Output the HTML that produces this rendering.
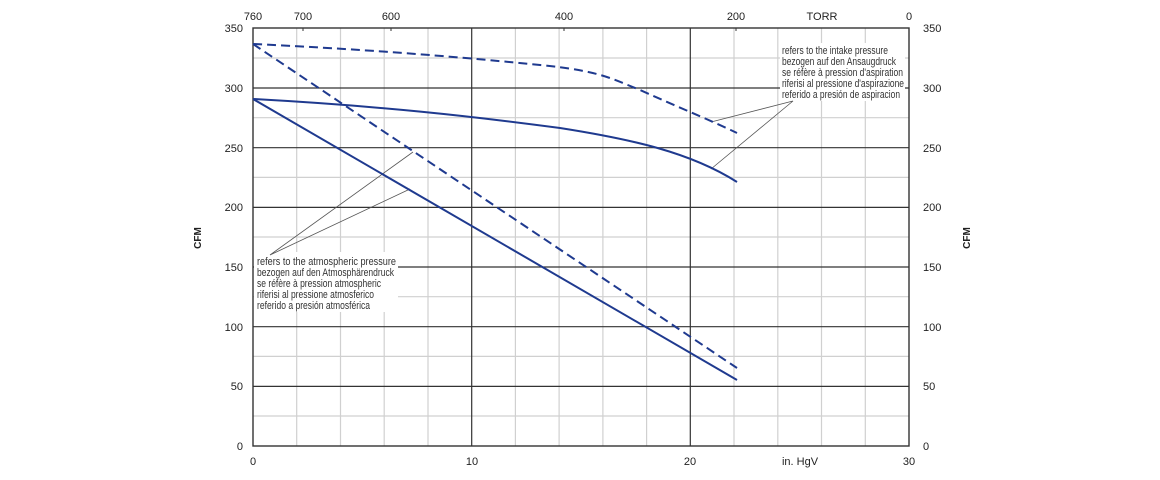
<!DOCTYPE html>
<html><head><meta charset="utf-8"><style>
html,body{margin:0;padding:0;background:#fff;}
svg{display:block;font-family:"Liberation Sans",sans-serif;}
</style></head><body>
<svg width="1160" height="480" viewBox="0 0 1160 480" xmlns="http://www.w3.org/2000/svg">
<g stroke="#d0d0d0" stroke-width="1.2">
<line x1="296.7" y1="28" x2="296.7" y2="446"/><line x1="340.5" y1="28" x2="340.5" y2="446"/><line x1="384.2" y1="28" x2="384.2" y2="446"/><line x1="428" y1="28" x2="428" y2="446"/>
<line x1="515.4" y1="28" x2="515.4" y2="446"/><line x1="559.1" y1="28" x2="559.1" y2="446"/><line x1="602.9" y1="28" x2="602.9" y2="446"/><line x1="646.6" y1="28" x2="646.6" y2="446"/>
<line x1="734" y1="28" x2="734" y2="446"/><line x1="777.8" y1="28" x2="777.8" y2="446"/><line x1="821.5" y1="28" x2="821.5" y2="446"/><line x1="865.3" y1="28" x2="865.3" y2="446"/>
<line x1="253" y1="58" x2="909" y2="58"/><line x1="253" y1="117.7" x2="909" y2="117.7"/><line x1="253" y1="177.4" x2="909" y2="177.4"/><line x1="253" y1="237" x2="909" y2="237"/><line x1="253" y1="296.7" x2="909" y2="296.7"/><line x1="253" y1="356.4" x2="909" y2="356.4"/><line x1="253" y1="416" x2="909" y2="416"/>
</g>
<g stroke="#333" stroke-width="1.2">
<line x1="253" y1="88" x2="909" y2="88"/><line x1="253" y1="147.7" x2="909" y2="147.7"/><line x1="253" y1="207.4" x2="909" y2="207.4"/><line x1="253" y1="267" x2="909" y2="267"/><line x1="253" y1="326.7" x2="909" y2="326.7"/><line x1="253" y1="386.4" x2="909" y2="386.4"/>
<line x1="471.7" y1="28" x2="471.7" y2="446"/><line x1="690.3" y1="28" x2="690.3" y2="446"/>
</g>
<rect x="253" y="28" width="656" height="418" fill="none" stroke="#333" stroke-width="1.4"/>
<g stroke="#333" stroke-width="1"><line x1="303" y1="28" x2="303" y2="31"/><line x1="391" y1="28" x2="391" y2="31"/><line x1="564" y1="28" x2="564" y2="31"/><line x1="736" y1="28" x2="736" y2="31"/></g>
<rect x="254" y="252" width="144" height="60" fill="#fff"/>
<rect x="780" y="43" width="125" height="58" fill="#fff"/>
<g fill="#222" font-size="11">
<text x="253" y="20" text-anchor="middle">760</text><text x="303" y="20" text-anchor="middle">700</text><text x="391" y="20" text-anchor="middle">600</text><text x="564" y="20" text-anchor="middle">400</text><text x="736" y="20" text-anchor="middle">200</text><text x="822" y="20" text-anchor="middle">TORR</text><text x="909" y="20" text-anchor="middle">0</text>
<g text-anchor="end"><text x="243" y="32">350</text><text x="243" y="92">300</text><text x="243" y="152">250</text><text x="243" y="211">200</text><text x="243" y="271">150</text><text x="243" y="331">100</text><text x="243" y="390">50</text><text x="243" y="450">0</text></g>
<g><text x="923" y="32">350</text><text x="923" y="92">300</text><text x="923" y="152">250</text><text x="923" y="211">200</text><text x="923" y="271">150</text><text x="923" y="331">100</text><text x="923" y="390">50</text><text x="923" y="450">0</text></g>
<text x="253" y="465" text-anchor="middle">0</text><text x="472" y="465" text-anchor="middle">10</text><text x="690" y="465" text-anchor="middle">20</text><text x="800" y="465" text-anchor="middle">in. HgV</text><text x="909" y="465" text-anchor="middle">30</text>
<text transform="translate(201,238) rotate(-90)" text-anchor="middle" font-weight="bold" font-size="10">CFM</text>
<text transform="translate(970,238) rotate(-90)" text-anchor="middle" font-weight="bold" font-size="10">CFM</text>
</g>
<g fill="#333" font-size="11" lengthAdjust="spacingAndGlyphs">
<text x="782" y="54" textLength="106" lengthAdjust="spacingAndGlyphs">refers to the intake pressure</text>
<text x="782" y="65" textLength="114" lengthAdjust="spacingAndGlyphs">bezogen auf den Ansaugdruck</text>
<text x="782" y="76" textLength="121" lengthAdjust="spacingAndGlyphs">se réfère à pression d'aspiration</text>
<text x="782" y="87" textLength="122" lengthAdjust="spacingAndGlyphs">riferisi al pressione d'aspirazione</text>
<text x="782" y="98" textLength="118" lengthAdjust="spacingAndGlyphs">referido a presión de aspiracion</text>
<text x="257" y="265" textLength="139" lengthAdjust="spacingAndGlyphs">refers to the atmospheric pressure</text>
<text x="257" y="276" textLength="137" lengthAdjust="spacingAndGlyphs">bezogen auf den Atmosphärendruck</text>
<text x="257" y="287" textLength="124" lengthAdjust="spacingAndGlyphs">se réfère à pression atmospheric</text>
<text x="257" y="298" textLength="117" lengthAdjust="spacingAndGlyphs">riferisi al pressione atmosferico</text>
<text x="257" y="309" textLength="113" lengthAdjust="spacingAndGlyphs">referido a presión atmosférica</text>
</g>
<g stroke="#555" stroke-width="0.8" fill="none">
<polyline points="711,122 793,101 711,169"/>
<polyline points="413,152 270,255 410,189"/>
</g>
<g stroke="#1f3a8f" stroke-width="2" fill="none">
<path d="M253,99 C380,106 470,116 560,128 C630,139 690,152 737,182"/>
<line x1="253" y1="99" x2="737" y2="380"/>
<g stroke-dasharray="9,5">
<path d="M253,44 C380,50 470,58 540,65 C600,71 610,78 640,90 C680,108 710,120 737,133"/>
<line x1="253" y1="44" x2="737" y2="368"/>
</g>
</g>
</svg>
</body></html>
